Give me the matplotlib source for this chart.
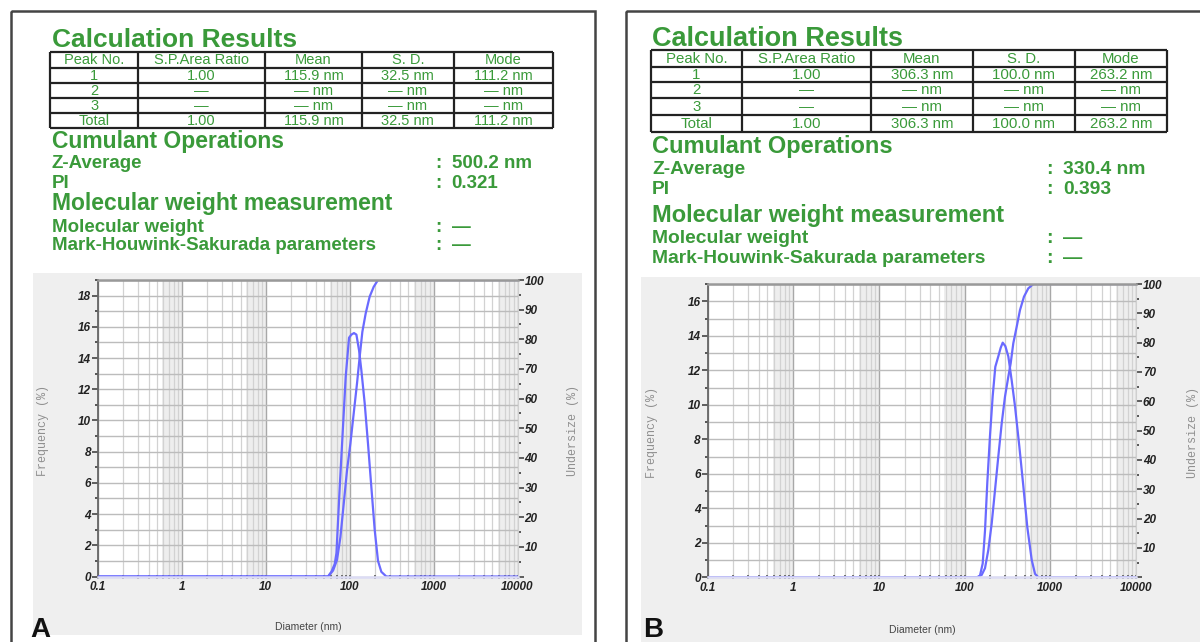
import numpy as np
import matplotlib.pyplot as plt
from matplotlib.patches import Rectangle
from matplotlib.ticker import FixedLocator, MultipleLocator, LogLocator, NullFormatter

W, H = 1200, 642

table_header = ['Peak No.', 'S.P.Area Ratio', 'Mean', 'S. D.', 'Mode']
peak_labels = ['1', '2', '3', 'Total']

a_area = ['1.00', '—', '—', '1.00']
a_mean = ['115.9 nm', '— nm', '— nm', '115.9 nm']
a_sd = ['32.5 nm', '— nm', '— nm', '32.5 nm']
a_mode = ['111.2 nm', '— nm', '— nm', '111.2 nm']

b_area = ['1.00', '—', '—', '1.00']
b_mean = ['306.3 nm', '— nm', '— nm', '306.3 nm']
b_sd = ['100.0 nm', '— nm', '— nm', '100.0 nm']
b_mode = ['263.2 nm', '— nm', '— nm', '263.2 nm']

cumulant_names = ['Z-Average', 'PI']
a_cumulant = ['500.2 nm', '0.321']
b_cumulant = ['330.4 nm', '0.393']
mw_names = ['Molecular weight', 'Mark-Houwink-Sakurada parameters']
mw_values = ['—', '—']

x_tick_values = [0.1, 1, 10, 100, 1000, 10000]
x_tick_labels = ['0.1', '1', '10', '100', '1000', '10000']
right_ticks = [0, 10, 20, 30, 40, 50, 60, 70, 80, 90, 100]
right_labels = ['', '10', '20', '30', '40', '50', '60', '70', '80', '90', '100']

# sample A: diameter (nm) / frequency (%) and undersize (%)
a_freq_diam = [0.1, 55.2, 60.5, 66.3, 69.5, 76.0, 83.2, 89.6, 98.2, 104.7, 112.5, 120.2,
               129.2, 137.8, 150.9, 165.3, 181.3, 198.5, 217.4, 238.3, 273.3, 10000]
a_freq_pct = [0, 0, 0.3, 0.8, 1.5, 5.7, 9.6, 12.8, 15.3, 15.5, 15.6, 15.5,
              14.5, 13.2, 11.1, 8.5, 5.7, 3.0, 1.0, 0.3, 0, 0]
a_under_diam = [0.1, 55.2, 57.8, 63.3, 70.6, 77.5, 84.9, 92.9, 101.9, 111.6, 122.2,
                131.5, 141.5, 155.0, 173.0, 193.2, 217.4, 10000]
a_under_pct = [0, 0, 0.7, 2.0, 5.6, 13.3, 24.6, 35.8, 44.8, 55.0, 65.1,
               74.1, 82.5, 88.7, 94.4, 97.7, 100, 100]

# sample B
b_freq_diam = [0.1, 140.6, 151.2, 162.6, 173.0, 184.1, 197.8, 212.7, 228.2, 247.2, 263.6,
               278.4, 298.8, 323.8, 354.6, 387.6, 434.9, 484.2, 539.4, 607.0, 663.5, 725.9, 10000]
b_freq_pct = [0, 0, 0.1, 0.8, 2.7, 5.5, 8.2, 10.5, 12.2, 12.8, 13.3,
              13.6, 13.4, 12.8, 11.4, 9.9, 7.6, 5.3, 2.9, 1.0, 0.2, 0, 0]
b_under_diam = [0.1, 140.6, 158.3, 173.0, 189.1, 207.2, 226.5, 247.2, 271.0, 296.0, 323.8,
                345.1, 370.1, 405.2, 442.9, 493.2, 553.5, 633.8, 10000]
b_under_pct = [0, 0, 0.8, 3.1, 9.3, 18.4, 29.8, 41.1, 52.5, 61.6, 68.4,
               73.0, 79.8, 85.4, 91.1, 95.7, 98.5, 100, 100]

GREEN = '#3a9a3a'
BLUE = '#6a6aff'
SANS = 'Liberation Sans'

plt.rcParams['font.family'] = [SANS, 'DejaVu Sans']

fig = plt.figure(figsize=(12, 6.42), dpi=100)
ov = fig.add_axes([0, 0, 1, 1], zorder=-1)
ov.set_xlim(0, W)
ov.set_ylim(H, 0)
ov.axis('off')


def report(lay, cols, cumulant):
    s = lay['scale']
    ov.add_patch(Rectangle((lay['border'][0], lay['border'][1]), lay['border'][2] - lay['border'][0],
                           lay['border'][3] - lay['border'][1], fill=False, ec='#444', lw=1.8, zorder=1))
    x0 = lay['x0']
    ov.text(x0, lay['title_y'], 'Calculation Results', color=GREEN, fontsize=19 * s,
            fontweight='bold', va='baseline')
    # table grid
    cx, ry = lay['cols'], lay['rows']
    for y in ry:
        ov.plot([cx[0], cx[-1]], [y, y], color='#222', lw=1.6, solid_capstyle='butt')
    for x in cx:
        ov.plot([x, x], [ry[0], ry[-1]], color='#222', lw=1.6, solid_capstyle='butt')
    table_rows = [table_header] + [list(r) for r in zip(peak_labels, *cols)]
    for i, row in enumerate(table_rows):
        yc = (ry[i] + ry[i + 1]) / 2 + 0.5
        for j, txt in enumerate(row):
            ov.text((cx[j] + cx[j + 1]) / 2, yc, txt, color=GREEN, fontsize=10.5 * s,
                    ha='center', va='center')
    ys = lay['lines_y']
    ov.text(x0, ys[0], 'Cumulant Operations', color=GREEN, fontsize=16.5 * s,
            fontweight='bold', va='baseline')
    ov.text(x0, ys[3], 'Molecular weight measurement', color=GREEN, fontsize=16.5 * s,
            fontweight='bold', va='baseline')
    items = list(zip(cumulant_names, cumulant)) + list(zip(mw_names, mw_values))
    for (name, val), y in zip(items, [ys[1], ys[2], ys[4], ys[5]]):
        ov.text(x0, y, name, color=GREEN, fontsize=13.5 * s, fontweight='bold', va='baseline')
        ov.text(lay['colon_x'], y, ':', color=GREEN, fontsize=13.5 * s, fontweight='bold', va='baseline')
        ov.text(lay['value_x'], y, val, color=GREEN, fontsize=13.5 * s, fontweight='bold', va='baseline')


def chart(lay, fd, fp, ud, up, letter):
    g = lay['gray']
    ov.add_patch(Rectangle((g[0], g[1]), g[2] - g[0], g[3] - g[1], color='#efefef', lw=0, zorder=0))
    l, t, r, b = lay['plot']
    ax = fig.add_axes([l / W, 1 - b / H, (r - l) / W, (b - t) / H])
    ax.set_xscale('log')
    ax.set_xlim(x_tick_values[0], x_tick_values[-1])
    ax.set_ylim(0, lay['ymax'])
    for k in x_tick_values[1:]:
        ax.axvspan(0.58 * k, k, color='#eeeeee', lw=0, zorder=0)
    ax.xaxis.set_major_locator(FixedLocator(x_tick_values))
    ax.set_xticklabels(x_tick_labels)
    ax.xaxis.set_minor_locator(LogLocator(base=10, subs=np.arange(2, 10)))
    ax.xaxis.set_minor_formatter(NullFormatter())
    ax.yaxis.set_major_locator(MultipleLocator(2))
    ax.yaxis.set_minor_locator(MultipleLocator(1))
    ax.set_axisbelow(True)
    ax.grid(True, which='major', axis='x', color='#a8a8a8', lw=1.0)
    ax.grid(True, which='minor', axis='x', color='#d2d2d2', lw=0.9)
    ax.grid(True, which='both', axis='y', color='#bcbcbc', lw=1.0)
    ax.tick_params(axis='x', which='both', direction='inout', length=3, width=1.3, color='#666', pad=2)
    ax.tick_params(axis='y', which='major', direction='out', length=4, width=1.2, color='#444', pad=1)
    ax.tick_params(axis='y', which='minor', direction='out', length=2, width=1.4, color='#555')
    for side in ['top', 'right', 'bottom']:
        ax.spines[side].set_visible(False)
    ax.spines['left'].set_color('#666')
    ax.spines['left'].set_linewidth(1.3)
    ax.plot(fd, fp, color=BLUE, lw=1.6)

    ax2 = ax.twinx()
    ax2.set_ylim(0, 100)
    ax2.set_yticks(right_ticks)
    ax2.set_yticklabels(right_labels)
    ax2.yaxis.set_minor_locator(MultipleLocator(5))
    ax2.tick_params(axis='y', which='major', direction='out', length=4, width=1.2, color='#444', pad=1)
    ax2.tick_params(axis='y', which='minor', direction='out', length=2, width=1.4, color='#555')
    ax2.spines['left'].set_visible(False)
    ax2.spines['top'].set_color('#999')
    ax2.spines['top'].set_linewidth(1.8)
    ax2.spines['bottom'].set_color('#dcdcf4')
    ax2.spines['bottom'].set_linewidth(1.8)
    ax2.spines['right'].set_color('#cfcfcf')
    ax2.plot(ud, up, color=BLUE, lw=1.6)

    for lbl in ax.get_xticklabels() + ax.get_yticklabels() + ax2.get_yticklabels():
        lbl.set_fontsize(8.5)
        lbl.set_fontweight('bold')
        lbl.set_fontstyle('italic')
        lbl.set_color('#222')

    fx, fy = lay['freq_lbl']
    ov.text(fx, fy, 'Frequency (%)', family='Liberation Mono', fontsize=8.5, color='#8f8f8f',
            rotation=90, ha='center', va='center')
    ux, uy = lay['under_lbl']
    ov.text(ux, uy, 'Undersize (%)', family='Liberation Mono', fontsize=8.5, color='#8f8f8f',
            rotation=90, ha='center', va='center')
    dx, dy = lay['diam_lbl']
    ov.text(dx, dy, 'Diameter (nm)', fontsize=7.5, color='#444', ha='center', va='center')
    lx, ly = lay['letter']
    ov.text(lx, ly, letter, fontsize=20, fontweight='bold', color='#111', va='baseline')


lay_a = dict(scale=1.0, border=(10.5, 10.5, 595, 700), x0=52, title_y=47,
             cols=[50, 138.3, 265, 362, 453.5, 553], rows=[52.3, 67.7, 82.7, 97.7, 113.3, 127.7],
             lines_y=[148, 168, 187.5, 210, 232, 249.5], colon_x=435, value_x=451.7,
             gray=(33, 273, 582, 635), plot=(98, 280, 517.5, 576.5), ymax=19,
             freq_lbl=(43, 430), under_lbl=(573, 430), diam_lbl=(308, 627), letter=(30, 637))
lay_b = dict(scale=1.03, border=(625.5, 10.5, 1260, 700), x0=652, title_y=46,
             cols=[651, 742, 871, 973, 1075, 1167], rows=[50, 66.7, 81.7, 98.3, 115, 131.7],
             lines_y=[153.5, 174.5, 194.5, 222, 243, 263], colon_x=1046, value_x=1063,
             gray=(641, 277, 1205, 645), plot=(707.5, 284, 1136, 577.3), ymax=17,
             freq_lbl=(652, 433), under_lbl=(1193, 433), diam_lbl=(922, 630), letter=(643, 637))

report(lay_a, [a_area, a_mean, a_sd, a_mode], a_cumulant)
report(lay_b, [b_area, b_mean, b_sd, b_mode], b_cumulant)
chart(lay_a, a_freq_diam, a_freq_pct, a_under_diam, a_under_pct, 'A')
chart(lay_b, b_freq_diam, b_freq_pct, b_under_diam, b_under_pct, 'B')

fig.savefig('out.png', dpi=100)
